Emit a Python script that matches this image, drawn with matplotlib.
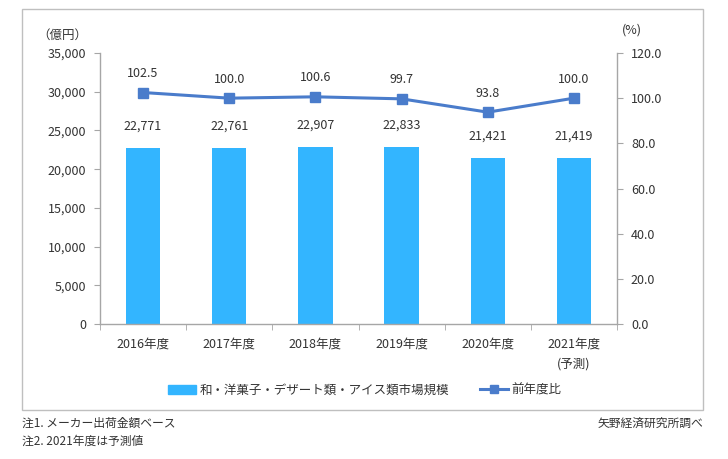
import matplotlib
matplotlib.use("Agg")
import matplotlib.pyplot as plt
from matplotlib.patches import Rectangle
from matplotlib.ticker import FuncFormatter
import numpy as np

plt.rcParams["font.family"] = ["Noto Sans CJK JP", "DejaVu Sans"]

# データ
categories = ["2016年度", "2017年度", "2018年度", "2019年度", "2020年度", "2021年度\n(予測)"]
market_size = [22771, 22761, 22907, 22833, 21421, 21419]
yoy_ratio = [102.5, 100.0, 100.6, 99.7, 93.8, 100.0]
bar_label = "和・洋菓子・デザート類・アイス類市場規模"
line_label = "前年度比"

W, H = 728, 459
fig = plt.figure(figsize=(W / 100, H / 100), dpi=100)
fig.patch.set_facecolor("white")

# 外枠
fig.patches.append(Rectangle((22 / W, 1 - 410 / H), (703 - 22) / W, (410 - 9) / H,
                             transform=fig.transFigure, fill=False,
                             edgecolor="#BFBFBF", lw=1.0))

ax = fig.add_axes([100 / W, 1 - 324 / H, (617 - 100) / W, (324 - 53) / H])
ax2 = ax.twinx()

bar_color = "#33B5FF"
line_color = "#4A7CCB"
text_color = "#333333"

x = np.arange(len(categories))
ax.bar(x, market_size, width=0.4, color=bar_color, zorder=2)
for xi, v in zip(x, market_size):
    ax.annotate(f"{v:,}", (xi, v), xytext=(0, 11), textcoords="offset points",
                ha="center", va="bottom", fontsize=9, color=text_color)

ax2.plot(x, yoy_ratio, color=line_color, lw=2.2, marker="s", markersize=7, zorder=3)
for xi, v in zip(x, yoy_ratio):
    ax2.annotate(f"{v:.1f}", (xi, v), xytext=(0, 9), textcoords="offset points",
                 ha="center", va="bottom", fontsize=9, color=text_color)

ax.set_xlim(-0.5, len(categories) - 0.5)
ax.set_ylim(0, 35000)
ax.set_yticks(np.arange(0, 35001, 5000))
ax.yaxis.set_major_formatter(FuncFormatter(lambda v, p: f"{int(v):,}"))
ax2.set_ylim(0, 120)
ax2.set_yticks(np.arange(0, 121, 20))
ax2.yaxis.set_major_formatter(FuncFormatter(lambda v, p: f"{v:.1f}"))

ax.set_xticks(x)
ax.set_xticklabels(categories, fontsize=9, color=text_color, linespacing=1.7, va="top")
ax.set_xticks(np.arange(-0.5, len(categories), 1), minor=True)
ax.tick_params(axis="x", which="major", length=0, pad=10)
ax.tick_params(axis="x", which="minor", length=4, color="#A6A6A6")
ax.tick_params(axis="y", length=4, color="#A6A6A6", labelsize=9, labelcolor=text_color, pad=6)
ax2.tick_params(axis="y", length=4, color="#A6A6A6", labelsize=9, labelcolor=text_color, pad=6)

for a in (ax, ax2):
    for s in a.spines.values():
        s.set_visible(False)
ax.spines["left"].set_visible(True)
ax.spines["bottom"].set_visible(True)
ax2.spines["right"].set_visible(True)
for s in (ax.spines["left"], ax.spines["bottom"], ax2.spines["right"]):
    s.set_color("#A6A6A6")
    s.set_linewidth(1.0)

# 単位
fig.text(62 / W, 1 - 35 / H, "（億円）", ha="center", va="center", fontsize=9, color=text_color)
fig.text(632 / W, 1 - 30 / H, "(%)", ha="center", va="center", fontsize=9, color=text_color)

# 凡例
handles = [plt.Rectangle((0, 0), 1, 1, color=bar_color),
           plt.Line2D([0], [0], color=line_color, lw=2.2, marker="s", markersize=6)]
fig.legend(handles, [bar_label, line_label], loc="center", bbox_to_anchor=(365 / W, 1 - 390 / H),
           ncol=2, frameon=False, fontsize=9, handlelength=2.2, columnspacing=2.5,
           handletextpad=0.3, labelcolor=text_color)

# 注記
fig.text(22 / W, 1 - 423 / H, "注1. メーカー出荷金額ベース", ha="left", va="center", fontsize=8.5, color=text_color)
fig.text(22 / W, 1 - 441 / H, "注2. 2021年度は予測値", ha="left", va="center", fontsize=8.5, color=text_color)
fig.text(703 / W, 1 - 423 / H, "矢野経済研究所調べ", ha="right", va="center", fontsize=8.5, color=text_color)

fig.savefig("out.png", dpi=100, facecolor="white")
